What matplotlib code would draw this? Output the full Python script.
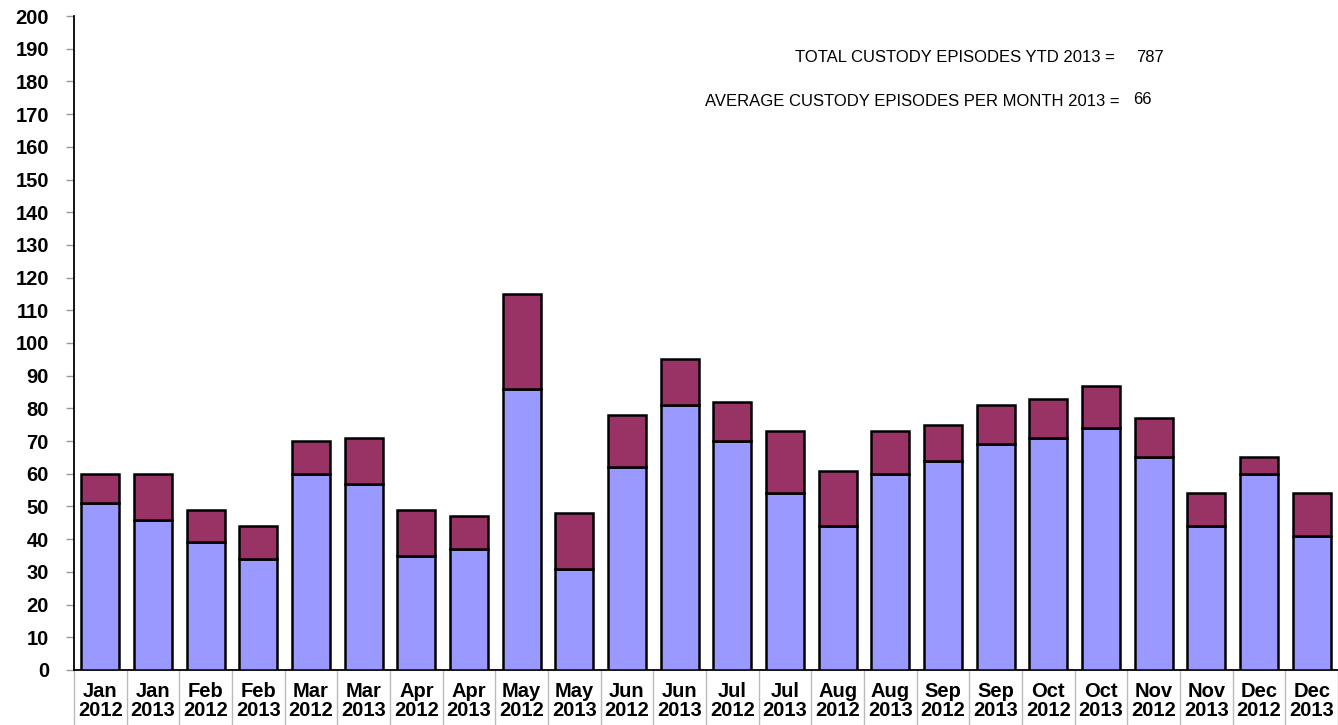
import matplotlib
matplotlib.use("Agg")
import matplotlib.pyplot as plt
import numpy as np

categories = ["Jan\n2012", "Jan\n2013", "Feb\n2012", "Feb\n2013", "Mar\n2012", "Mar\n2013",
              "Apr\n2012", "Apr\n2013", "May\n2012", "May\n2013", "Jun\n2012", "Jun\n2013",
              "Jul\n2012", "Jul\n2013", "Aug\n2012", "Aug\n2013", "Sep\n2012", "Sep\n2013",
              "Oct\n2012", "Oct\n2013", "Nov\n2012", "Nov\n2013", "Dec\n2012", "Dec\n2013"]
lower = [51, 46, 39, 34, 60, 57, 35, 37, 86, 31, 62, 81, 70, 54, 44, 60, 64, 69, 71, 74, 65, 44, 60, 41]
totals = [60, 60, 49, 44, 70, 71, 49, 47, 115, 48, 78, 95, 82, 73, 61, 73, 75, 81, 83, 87, 77, 54, 65, 54]
upper = [t - l for t, l in zip(totals, lower)]

total_2013 = "787"
avg_2013 = "66"

plt.rcParams['font.family'] = ['Liberation Sans', 'DejaVu Sans']

fig = plt.figure(figsize=(13.38, 7.25), dpi=100)
ax = fig.add_axes([0.0553, 0.0759, 0.9447, 0.902])

x = np.arange(len(categories))
ax.bar(x, lower, width=0.72, color="#9999FF", edgecolor="black", linewidth=1.8, zorder=3)
ax.bar(x, upper, bottom=lower, width=0.72, color="#993366", edgecolor="black", linewidth=1.8, zorder=3)

ax.set_xlim(-0.5, len(categories) - 0.5)
ax.set_ylim(0, 200)
ax.set_yticks(range(0, 201, 10))
ax.set_yticklabels([str(v) for v in range(0, 201, 10)], fontsize=14.5, fontweight='bold')
ax.tick_params(axis='y', length=6, color='#999999', pad=12, width=1)

ax.set_xticks(x)
ax.set_xticklabels(categories, fontsize=14.5, fontweight='bold', linespacing=1.0)
ax.tick_params(axis='x', which='major', length=0, pad=9)
ax.set_xticks(np.arange(-0.5, len(categories), 1.0), minor=True)
ax.tick_params(axis='x', which='minor', length=42, color='#BBBBBB', width=1)

for s in ['top', 'right']:
    ax.spines[s].set_visible(False)
ax.spines['left'].set_linewidth(1.3)
ax.spines['bottom'].set_linewidth(1.3)

fig.text(1115 / 1338, 1 - 58 / 725, "TOTAL CUSTODY EPISODES YTD 2013 =", ha='right', va='center', fontsize=12)
fig.text(1136 / 1338, 1 - 58 / 725, total_2013, ha='left', va='center', fontsize=12)
fig.text(1120 / 1338, 1 - 101 / 725, "AVERAGE CUSTODY EPISODES PER MONTH 2013 =", ha='right', va='center', fontsize=12)
fig.text(1133 / 1338, 1 - 99 / 725, avg_2013, ha='left', va='center', fontsize=12)

fig.savefig("out.png", dpi=100)
